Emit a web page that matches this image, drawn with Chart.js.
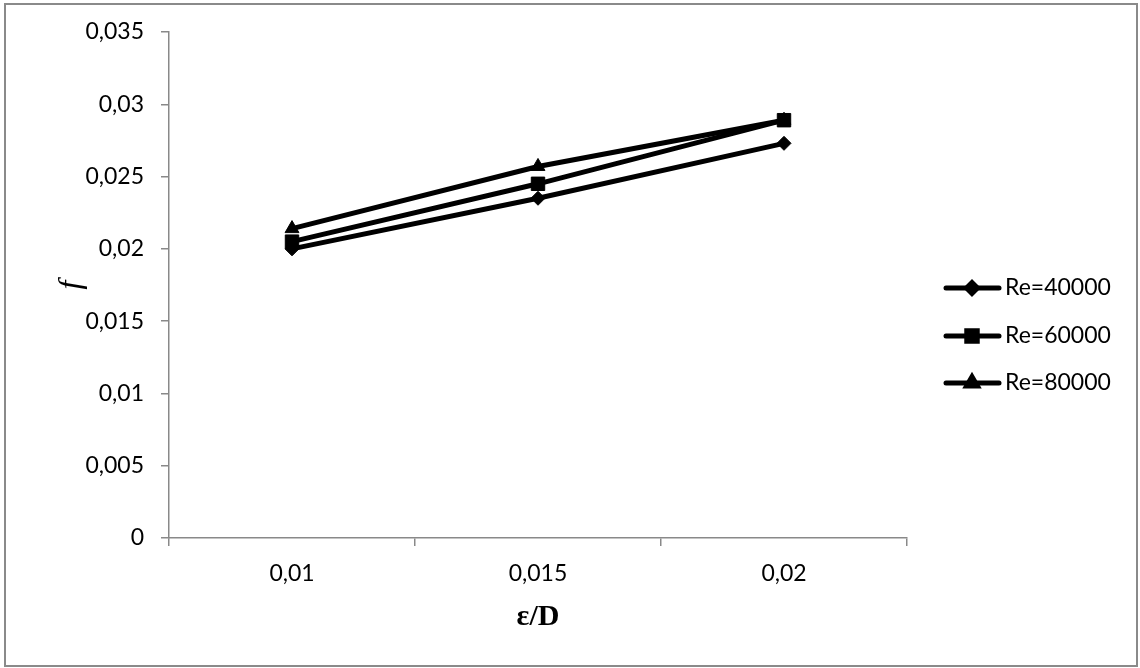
<!DOCTYPE html>
<html>
<head>
<meta charset="utf-8">
<script src="https://cdn.jsdelivr.net/npm/chart.js@4/dist/chart.umd.min.js"></script>
<style>
    html, body { margin: 0; padding: 0; background: #fff; }
    #wrap { width: 1140px; height: 668px; }
</style>
</head>
<body>
<div id="wrap"><canvas id="grafico" width="1140" height="668"></canvas></div>
<script>
// Dados
const categorias = ['0,01', '0,015', '0,02'];
const re40000 = [0.0200, 0.0235, 0.0273];
const re60000 = [0.0205, 0.0245, 0.0289];
const re80000 = [0.0214, 0.0257, 0.0289];
const nomesSeries = ['Re=40000', 'Re=60000', 'Re=80000'];
const yTicks = [0, 0.005, 0.01, 0.015, 0.02, 0.025, 0.03, 0.035];

const fonteTexto = "Lato, 'Open Sans', sans-serif";
const corEixo = '#898989';

function serie(label, data, estilo, raio) {
    return {
        label: label,
        data: data,
        borderColor: '#000',
        backgroundColor: '#000',
        borderWidth: 5,
        pointStyle: estilo,
        pointRadius: raio,
        pointBorderWidth: 1,
        pointBackgroundColor: '#000',
        pointBorderColor: '#000',
        tension: 0
    };
}

const conjuntos = [
    serie(nomesSeries[0], re40000, 'rectRot', 7),
    serie(nomesSeries[1], re60000, 'rect', 9.5),
    serie(nomesSeries[2], re80000, 'triangle', 8)
];

// Moldura externa e legenda no estilo Excel
const molduraLegenda = {
    id: 'molduraLegenda',
    afterDraw(chart) {
        const ctx = chart.ctx;
        ctx.save();
        ctx.strokeStyle = '#8a8a8a';
        ctx.lineWidth = 2;
        ctx.strokeRect(5, 4, 1132, 662);

        const ys = [288, 336, 383];
        chart.data.datasets.forEach((ds, i) => {
            const y = ys[i];
            ctx.strokeStyle = '#000';
            ctx.lineWidth = 5;
            ctx.lineCap = 'round';
            ctx.beginPath();
            ctx.moveTo(946, y);
            ctx.lineTo(999, y);
            ctx.stroke();
            ctx.fillStyle = '#000';
            Chart.helpers.drawPoint(ctx, {
                pointStyle: ds.pointStyle,
                radius: ds.pointRadius * 0.78,
                borderWidth: 1,
                rotation: 0
            }, 972, y);
            ctx.fill();
            ctx.font = '23px ' + fonteTexto;
            ctx.textBaseline = 'middle';
            ctx.textAlign = 'left';
            ctx.fillText(ds.label, 1005, y);
        });
        ctx.restore();
    }
};

const ctx = document.getElementById('grafico').getContext('2d');
new Chart(ctx, {
    type: 'line',
    data: {
        labels: categorias,
        datasets: conjuntos
    },
    options: {
        responsive: false,
        animation: false,
        layout: {
            padding: { left: 0, top: 32, right: 233, bottom: 0 }
        },
        plugins: {
            legend: { display: false },
            tooltip: { enabled: false }
        },
        scales: {
            x: {
                type: 'category',
                offset: true,
                afterFit: (scale) => { scale.height = 130; },
                grid: {
                    offset: true,
                    drawOnChartArea: false,
                    drawTicks: true,
                    tickLength: 8,
                    color: corEixo,
                    lineWidth: 1.5
                },
                border: { color: corEixo, width: 1.5 },
                ticks: {
                    color: '#000',
                    padding: 14,
                    maxRotation: 0,
                    font: { family: fonteTexto, size: 23 }
                },
                title: {
                    display: true,
                    text: 'ε/D',
                    color: '#000',
                    font: { family: "'Liberation Serif', 'DejaVu Serif', serif", size: 30, weight: 'bold' },
                    padding: { top: 0, bottom: 33 }
                }
            },
            y: {
                min: 0,
                max: 0.035,
                afterFit: (scale) => { scale.width = 169; },
                afterBuildTicks: (scale) => {
                    scale.ticks = yTicks.map(v => ({ value: v }));
                },
                grid: {
                    drawOnChartArea: false,
                    drawTicks: true,
                    tickLength: 8,
                    color: corEixo,
                    lineWidth: 1.5
                },
                border: { color: corEixo, width: 1.5 },
                ticks: {
                    color: '#000',
                    padding: 17,
                    font: { family: fonteTexto, size: 23 },
                    callback: (v) => String(v).replace('.', ',')
                },
                title: {
                    display: true,
                    text: 'f',
                    color: '#000',
                    font: { family: "'Liberation Serif', 'DejaVu Serif', serif", size: 32, style: 'italic' },
                    padding: { top: 52, bottom: 0 }
                }
            }
        }
    },
    plugins: [molduraLegenda]
});
</script>
</body>
</html>
